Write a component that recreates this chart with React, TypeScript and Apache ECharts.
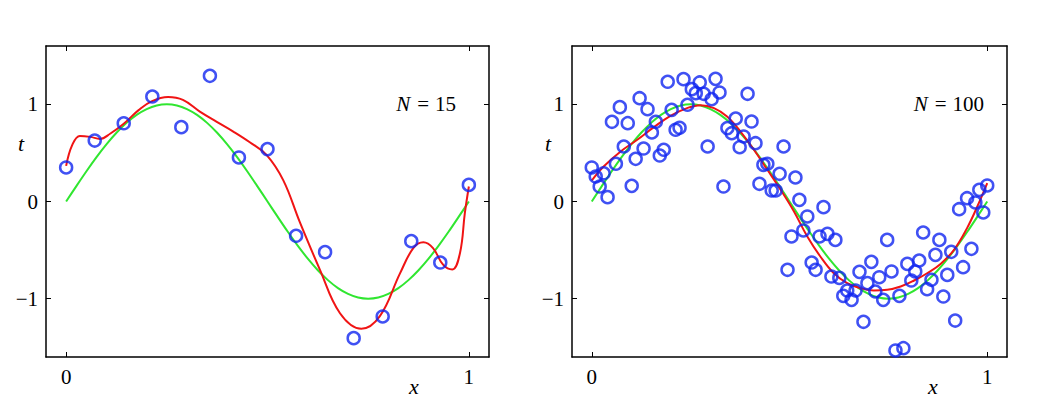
import React, { useEffect, useRef } from "react";
import * as echarts from "echarts";

// ---- data ----
const xTickValues = [0, 1];
const yTickValues = [-1, 0, 1];

// N = 15 data points
const n15X = [0, 0.071, 0.143, 0.214, 0.286, 0.357, 0.429, 0.5, 0.571, 0.643, 0.714, 0.786, 0.857, 0.929, 1.0];
const n15T = [0.35, 0.627, 0.805, 1.08, 0.765, 1.293, 0.453, 0.539, -0.353, -0.521, -1.406, -1.183, -0.408, -0.628, 0.171];

// N = 100 data points
const n100X = [
  0, 0.010, 0.020, 0.030, 0.040, 0.051, 0.061, 0.071, 0.081, 0.091,
  0.101, 0.111, 0.121, 0.131, 0.141, 0.152, 0.162, 0.172, 0.182, 0.192,
  0.202, 0.212, 0.222, 0.232, 0.242, 0.253, 0.263, 0.273, 0.283, 0.293,
  0.303, 0.313, 0.323, 0.333, 0.343, 0.354, 0.364, 0.374, 0.384, 0.394,
  0.404, 0.414, 0.424, 0.434, 0.444, 0.455, 0.465, 0.475, 0.485, 0.495,
  0.505, 0.515, 0.525, 0.535, 0.545, 0.556, 0.566, 0.576, 0.586, 0.596,
  0.606, 0.616, 0.626, 0.636, 0.646, 0.657, 0.667, 0.677, 0.687, 0.697,
  0.707, 0.717, 0.727, 0.737, 0.747, 0.758, 0.768, 0.778, 0.788, 0.798,
  0.808, 0.818, 0.828, 0.838, 0.848, 0.859, 0.869, 0.879, 0.889, 0.899,
  0.909, 0.919, 0.929, 0.939, 0.949, 0.960, 0.970, 0.980, 0.990, 1.000,
];
const n100T = [
  0.35, 0.257, 0.154, 0.29, 0.045, 0.82, 0.388, 0.971, 0.566, 0.806,
  0.161, 0.439, 1.063, 0.545, 0.95, 0.71, 0.82, 0.473, 0.532, 1.232,
  0.943, 0.738, 0.758, 1.259, 0.995, 1.156, 1.115, 1.225, 1.108, 0.566,
  1.053, 1.262, 1.122, 0.154, 0.755, 0.703, 0.854, 0.559, 0.669, 1.108,
  0.823, 0.6, 0.182, 0.377, 0.388, 0.113, 0.113, 0.285, 0.566, -0.703,
  -0.36, 0.247, 0.017, -0.298, -0.154, -0.628, -0.703, -0.36, -0.058, -0.333,
  -0.772, -0.395, -0.786, -0.971, -0.916, -1.012, -0.916, -0.724, -1.238, -0.84,
  -0.621, -0.926, -0.779, -1.012, -0.395, -0.72, -1.533, -0.971, -1.509, -0.642,
  -0.813, -0.72, -0.607, -0.319, -0.902, -0.806, -0.549, -0.395, -0.978, -0.755,
  -0.518, -1.225, -0.079, -0.676, 0.034, -0.487, -0.01, 0.12, -0.113, 0.165,
];

// green curve (true function), read at steps of 0.025
const greenX = [
  0, 0.025, 0.05, 0.075, 0.1, 0.125, 0.15, 0.175, 0.2, 0.225,
  0.25, 0.275, 0.3, 0.325, 0.35, 0.375, 0.4, 0.425, 0.45, 0.475,
  0.5, 0.525, 0.55, 0.575, 0.6, 0.625, 0.65, 0.675, 0.7, 0.725,
  0.75, 0.775, 0.8, 0.825, 0.85, 0.875, 0.9, 0.925, 0.95, 0.975, 1.0,
];
const greenT = [
  0, 0.156, 0.309, 0.454, 0.588, 0.707, 0.809, 0.891, 0.951, 0.988,
  1.0, 0.988, 0.951, 0.891, 0.809, 0.707, 0.588, 0.454, 0.309, 0.156,
  0, -0.156, -0.309, -0.454, -0.588, -0.707, -0.809, -0.891, -0.951, -0.988,
  -1.0, -0.988, -0.951, -0.891, -0.809, -0.707, -0.588, -0.454, -0.309, -0.156, 0,
];

// red fitted curve, N = 15
const red15X = [0, 0.015, 0.034, 0.06, 0.084, 0.11, 0.143, 0.18, 0.212, 0.253, 0.29, 0.332, 0.374, 0.415, 0.456, 0.4975, 0.539, 0.58, 0.63, 0.68, 0.733, 0.779, 0.829, 0.862, 0.887, 0.911, 0.936, 0.959, 0.978, 0.99, 1.0];
const red15T = [0.367, 0.58, 0.675, 0.665, 0.644, 0.7, 0.8, 0.94, 1.03, 1.075, 1.045, 0.925, 0.82, 0.72, 0.61, 0.48, 0.22, -0.21, -0.7, -1.15, -1.31, -1.18, -0.74, -0.48, -0.42, -0.48, -0.65, -0.7, -0.53, -0.12, 0.154];

// red fitted curve, N = 100
const red100X = [0, 0.03, 0.073, 0.115, 0.157, 0.199, 0.241, 0.275, 0.309, 0.342, 0.376, 0.41, 0.444, 0.477, 0.511, 0.545, 0.578, 0.612, 0.646, 0.68, 0.713, 0.747, 0.781, 0.815, 0.848, 0.882, 0.916, 0.949, 0.975, 1.0];
const red100T = [0.216, 0.36, 0.515, 0.635, 0.765, 0.882, 0.961, 0.991, 0.961, 0.875, 0.72, 0.532, 0.326, 0.125, -0.1, -0.36, -0.566, -0.738, -0.84, -0.892, -0.916, -0.909, -0.875, -0.813, -0.738, -0.642, -0.497, -0.274, -0.051, 0.189];

const panelLabels = ["15", "100"];

const BLUE = "#1026f0";
const RED = "#f01414";
const GREEN = "#30e630";
const FONT = "Liberation Serif, DejaVu Serif, serif";

const pairs = (xs: number[], ys: number[]) => xs.map((x, i) => [x, ys[i]]);

export default function App() {
  const ref = useRef<HTMLDivElement>(null);
  useEffect(() => {
    if (!ref.current) return;
    const chart = echarts.init(ref.current, undefined, { renderer: "svg" });

    const grids = [
      { left: 46, top: 46, width: 443, height: 311 },
      { left: 572, top: 46, width: 435, height: 311 },
    ];
    const axisLine = { show: true, onZero: false, lineStyle: { color: "#000", width: 1.5 } };
    const xAxes: any[] = [];
    const yAxes: any[] = [];
    grids.forEach((_, g) => {
      ["bottom", "top"].forEach((pos) => {
        xAxes.push({
          type: "value", gridIndex: g, position: pos, min: -0.05, max: 1.05,
          axisLine,
          axisTick: { show: true, inside: true, length: 5, customValues: xTickValues, lineStyle: { color: "#000", width: 1 } },
          axisLabel: pos === "bottom"
            ? { show: true, customValues: xTickValues, color: "#000", fontFamily: FONT, fontSize: 21, margin: 9 }
            : { show: false },
          splitLine: { show: false },
        });
      });
      ["left", "right"].forEach((pos) => {
        yAxes.push({
          type: "value", gridIndex: g, position: pos, min: -1.6, max: 1.6,
          axisLine,
          axisTick: { show: true, inside: true, length: 5, customValues: yTickValues, lineStyle: { color: "#000", width: 1 } },
          axisLabel: pos === "left"
            ? {
                show: true, customValues: yTickValues, color: "#000", fontFamily: FONT, fontSize: 21, margin: 8,
                formatter: (v: number) => (v < 0 ? "\u2212" + Math.abs(v) : String(v)),
              }
            : { show: false },
          splitLine: { show: false },
        });
      });
    });

    const panels = [
      { pts: pairs(n15X, n15T), red: pairs(red15X, red15T) },
      { pts: pairs(n100X, n100T), red: pairs(red100X, red100T) },
    ];
    const series: any[] = [];
    panels.forEach((p, g) => {
      const xi = g * 2;
      const yi = g * 2;
      series.push({
        type: "line", xAxisIndex: xi, yAxisIndex: yi, data: pairs(greenX, greenT),
        showSymbol: false, smooth: 0.3, lineStyle: { color: GREEN, width: 2 }, z: 2,
      });
      series.push({
        type: "line", xAxisIndex: xi, yAxisIndex: yi, data: p.red,
        showSymbol: false, smooth: 0.4, lineStyle: { color: RED, width: 2 }, z: 3,
      });
      series.push({
        type: "scatter", xAxisIndex: xi, yAxisIndex: yi, data: p.pts,
        symbol: "circle", symbolSize: 12,
        itemStyle: { color: "rgba(0,0,0,0)", borderColor: BLUE, borderWidth: 2.5 }, z: 4,
      });
    });

    const graphic: any[] = [];
    const labelPos = [
      { t: [21, 143], x: [414, 386], n: [456, 104] },
      { t: [548, 143], x: [933, 386], n: [984, 104] },
    ];
    labelPos.forEach((lp, g) => {
      graphic.push({
        type: "text", style: { text: "t", x: lp.t[0], y: lp.t[1], fill: "#000", fontFamily: FONT, fontStyle: "italic", fontSize: 22, align: "center", verticalAlign: "middle" },
      });
      graphic.push({
        type: "text", style: { text: "x", x: lp.x[0], y: lp.x[1], fill: "#000", fontFamily: FONT, fontStyle: "italic", fontSize: 22, align: "center", verticalAlign: "middle" },
      });
      graphic.push({
        type: "text",
        style: {
          text: "{i|N}{e|=}{r|" + panelLabels[g] + "}", x: lp.n[0], y: lp.n[1], fill: "#000",
          fontFamily: FONT, fontSize: 21, align: "right", verticalAlign: "middle",
          rich: {
            i: { fontStyle: "italic", fontFamily: FONT, fontSize: 21, fill: "#000" },
            e: { fontFamily: FONT, fontSize: 21, fill: "#000", padding: [0, 6, 0, 7] },
            r: { fontFamily: FONT, fontSize: 21, fill: "#000" },
          },
        },
      });
    });

    chart.setOption({
      animation: false,
      backgroundColor: "#fff",
      grid: grids,
      xAxis: xAxes,
      yAxis: yAxes,
      series,
      graphic,
    });
    return () => chart.dispose();
  }, []);
  return <div ref={ref} style={{ position: "fixed", left: 0, top: 0, width: 1054, height: 406 }} />;
}
